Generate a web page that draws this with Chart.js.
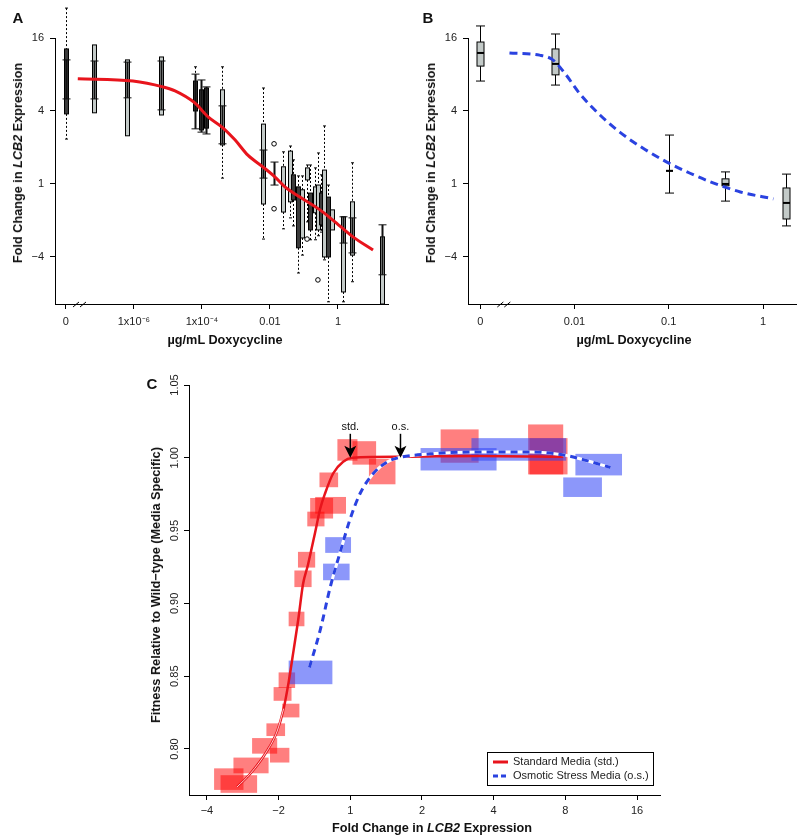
<!DOCTYPE html>
<html>
<head>
<meta charset="utf-8">
<script src="https://cdn.jsdelivr.net/npm/chart.js@4.4.0/dist/chart.umd.min.js"></script>
<style>
  body { margin: 0; background: #fff; font-family: "Liberation Sans", Arial, sans-serif; }
  #fig { position: relative; width: 800px; height: 839px; }
  canvas { position: absolute; }
  .t { position: absolute; white-space: nowrap; font-weight: bold; font-size: 12.7px; color: #111; transform: translate(-50%, -50%); }
  .r { transform: translate(-50%, -50%) rotate(-90deg); }
  .p { font-size: 15px; }
</style>
</head>
<body>
<div id="fig">
  <canvas id="cA" width="400" height="350" style="left:0;top:0"></canvas>
  <canvas id="cB" width="400" height="350" style="left:400px;top:0"></canvas>
  <canvas id="cC" width="800" height="484" style="left:0;top:355px"></canvas>

  <div class="t p" style="left:18px;top:17px">A</div>
  <div class="t p" style="left:428px;top:17px">B</div>
  <div class="t p" style="left:152px;top:383px">C</div>

  <div class="t r" style="left:18px;top:163px">Fold Change in <i>LCB2</i> Expression</div>
  <div class="t" style="left:225px;top:340px">µg/mL Doxycycline</div>
  <div class="t r" style="left:431px;top:163px">Fold Change in <i>LCB2</i> Expression</div>
  <div class="t" style="left:634px;top:340px">µg/mL Doxycycline</div>
  <div class="t r" style="left:156px;top:585px">Fitness Relative to Wild−type (Media Specific)</div>
  <div class="t" style="left:432px;top:828px">Fold Change in <i>LCB2</i> Expression</div>
</div>

<script>
const FONT = '"Liberation Sans", Arial, sans-serif';

// fold change axis (log2 units) shared by A and B
const foldTicks = [4, 2, 0, -2];
const foldLabels = ['16', '4', '1', '−4'];

// ---- panel A: dose in log10 µg/mL, zero dose drawn at -8
const aDoseTicks = [-8, -6, -4, -2, 0];
const aDoseLabels = ['0', '1x10⁻⁶', '1x10⁻⁴', '0.01', '1'];

const aBoxX     = [-8, -7.18, -6.19, -5.19, -4.19, -4.03, -3.89, -3.40, -2.20, -1.62, -1.41, -1.32, -1.18, -1.06, -0.91, -0.82, -0.68, -0.59, -0.50, -0.41, -0.29, -0.18, 0.15, 0.41, 1.29];
const aBoxLo    = [1.23, 1.95, 1.32, 1.89, 2.00, 1.48, 1.53, 0.16, -1.51, -1.23, -0.93, -1.15, -2.44, -1.95, -1.04, -1.53, -1.53, -1.42, -1.32, -2.08, -3.23, -1.26, -3.23, -2.68, -3.29];
const aBoxQ1    = [1.92, 1.95, 1.32, 1.89, 2.00, 1.48, 1.53, 1.07, -0.55, -0.77, -0.49, -0.44, -1.75, -1.48, 0.11, -1.26, -0.79, -1.26, -1.12, -2.00, -2.00, -1.26, -2.96, -1.95, -3.29];
const aBoxQ3    = [3.70, 3.81, 3.40, 3.48, 2.82, 2.58, 2.63, 2.58, 1.64, 0.47, 0.90, 0.25, -0.08, -0.16, 0.44, -0.25, -0.08, -0.03, -0.25, 0.38, -0.36, -0.71, -0.90, -0.49, -1.45];
const aBoxHi    = [4.82, 3.81, 3.40, 3.48, 3.21, 2.58, 2.63, 3.21, 2.63, 0.88, 1.04, 0.66, 0.22, 0.22, 0.52, 0.52, 0.44, 0.85, 0.25, 1.59, -0.03, -0.71, -0.90, 0.58, -1.45];
const aBoxShade = ['d', 'l', 'l', 'l', 'd', 'd', 'd', 'l', 'l', 'l', 'l', 'd', 'd', 'l', 'l', 'd', 'l', 'l', 'd', 'l', 'd', 'l', 'l', 'l', 'l'];

const aBarX  = [-8, -7.18, -6.19, -5.19, -4.19, -4.03, -3.89, -3.40, -2.20, -1.88, 0.15, 0.41, 1.29];
const aBarLo = [2.33, 2.33, 2.36, 2.03, 1.51, 1.42, 1.37, 1.10, 0.16, -0.03, -1.62, -1.89, -2.49];
const aBarHi = [3.40, 3.37, 3.34, 3.37, 3.01, 2.85, 2.66, 2.14, 0.93, 0.60, -0.90, -0.93, -1.12];

const aOutX = [-1.88, -1.88, -0.91, -0.59];
const aOutY = [1.10, -0.68, -1.51, -2.63];

const aFitX = [-7.65, -6.03, -5.15, -4.79, -4.21, -3.82, -3.41, -3.03, -2.65, -2.21, -1.85, -1.56, -1.12, -0.53, -0.15, 0.44, 1.03];
const aFitY = [2.88, 2.82, 2.66, 2.55, 2.22, 1.84, 1.56, 1.21, 0.79, 0.47, 0.19, -0.08, -0.36, -0.71, -0.99, -1.45, -1.81];

// ---- panel B: zero dose drawn at -3
const bDoseTicks = [-3, -2, -1, 0];
const bDoseLabels = ['0', '0.01', '0.1', '1'];
const bBoxX   = [-3, -2.205, -1, -0.40, 0.245];
const bBoxLo  = [2.82, 2.71, -0.25, -0.47, -1.15];
const bBoxQ1  = [3.23, 2.99, 0.36, -0.05, -0.96];
const bBoxMed = [3.59, 3.29, 0.36, 0.00, -0.52];
const bBoxQ3  = [3.89, 3.70, 0.36, 0.14, -0.11];
const bBoxHi  = [4.33, 4.11, 1.34, 0.33, 0.27];

const bFitX = [-2.69, -2.37, -2.23, -2.09, -1.95, -1.73, -1.52, -1.28, -1.02, -0.78, -0.53, -0.24, 0.11];
const bFitY = [3.59, 3.53, 3.40, 2.99, 2.49, 1.89, 1.42, 0.99, 0.60, 0.30, 0.03, -0.22, -0.41];

// ---- panel C: fitness vs log2 fold change
const cFoldTicks = [-2, -1, 0, 1, 2, 3, 4];
const cFoldLabels = ['−4', '−2', '1', '2', '4', '8', '16'];
const cFitTicks = [0.80, 0.85, 0.90, 0.95, 1.00, 1.05];
const cFitLabels = ['0.80', '0.85', '0.90', '0.95', '1.00', '1.05'];

const stdX1 = [-1.90, -1.81, -1.63, -1.37, -1.17, -1.12, -0.95, -1.07, -1.00, -0.86, -0.78, -0.73, -0.60, -0.56, -0.49, -0.43, -0.18, 0.03, 0.26, 1.26, 2.48, 2.50];
const stdX2 = [-1.49, -1.30, -1.14, -1.02, -0.91, -0.85, -0.71, -0.82, -0.77, -0.64, -0.54, -0.49, -0.36, -0.24, -0.06, -0.17, 0.10, 0.36, 0.63, 1.79, 2.97, 3.03];
const stdY1 = [0.7719, 0.7699, 0.7833, 0.7968, 0.8089, 0.7907, 0.8217, 0.8331, 0.8419, 0.8843, 0.9112, 0.9246, 0.9529, 0.9583, 0.9616, 0.9798, 0.9980, 0.9953, 0.9818, 0.9966, 0.9886, 0.9886];
const stdY2 = [0.7867, 0.7820, 0.7941, 0.8075, 0.8176, 0.8008, 0.8311, 0.8425, 0.8526, 0.8943, 0.9226, 0.9354, 0.9630, 0.9724, 0.9731, 0.9899, 1.0128, 1.0114, 0.9993, 1.0195, 1.0229, 1.0135];

const osX1 = [-0.35, -0.38, -0.86, 0.98, 1.69, 3.14, 2.97];
const osX2 = [0.01, -0.01, -0.25, 2.04, 3.01, 3.79, 3.51];
const osY1 = [0.9347, 0.9159, 0.8445, 0.9913, 0.9980, 0.9879, 0.9731];
const osY2 = [0.9455, 0.9273, 0.8607, 1.0067, 1.0135, 1.0027, 0.9865];

const stdFitX = [-1.58, -1.39, -1.16, -1.02, -0.93, -0.86, -0.79, -0.72, -0.66, -0.59, -0.49, -0.42, -0.35, -0.24, -0.10, 0.03, 0.70, 1.81, 2.97];
const stdFitY = [0.7739, 0.7833, 0.7988, 0.8123, 0.8277, 0.8459, 0.8681, 0.8910, 0.9132, 0.9266, 0.9489, 0.9650, 0.9758, 0.9892, 0.9973, 1.0000, 1.0007, 1.0013, 1.0007];
const osFitX = [-0.57, -0.42, -0.28, -0.14, 0.00, 0.14, 0.32, 0.52, 0.67, 1.12, 1.81, 2.51, 2.97, 3.25, 3.63];
const osFitY = [0.856, 0.8816, 0.9112, 0.9354, 0.9583, 0.9758, 0.9892, 0.9973, 1.000, 1.0027, 1.0040, 1.0040, 1.0020, 0.9987, 0.9933];

const arrowX = [0, 0.70];
const arrowLabels = ['std.', 'o.s.'];

const RED = '#e8141c';
const BLUE = '#2a42e0';
const pts = (xs, ys) => xs.map((x, i) => ({ x, y: ys[i] }));

function xAxis(min, max, vals, labels, h, pad) {
  return {
    type: 'linear', min, max,
    afterBuildTicks: s => { s.ticks = vals.map(v => ({ value: v })); },
    afterFit: s => { s.height = h; },
    ticks: { callback: (v, i) => labels[i], color: '#222', font: { family: FONT, size: 11 }, padding: pad, maxRotation: 0, autoSkip: false },
    grid: { drawOnChartArea: false, color: '#000', tickColor: '#000', tickLength: 5 },
    border: { color: '#000', width: 1 }
  };
}
function yAxis(min, max, vals, labels, w, showLabels) {
  return {
    type: 'linear', min, max,
    afterBuildTicks: s => { s.ticks = vals.map(v => ({ value: v })); },
    afterFit: s => { s.width = w; },
    ticks: { display: showLabels, callback: (v, i) => labels[i], color: '#222', font: { family: FONT, size: 11 }, padding: 6, autoSkip: false },
    grid: { drawOnChartArea: false, color: '#000', tickColor: '#000', tickLength: 5 },
    border: { color: '#000', width: 1 }
  };
}

// boxplots drawn through the chart scales
function boxPlugin(id, d, opt) {
  return {
    id,
    beforeDatasetsDraw(chart) {
      const { ctx, scales: { x, y } } = chart;
      ctx.save();
      ctx.strokeStyle = '#000';
      d.x.forEach((xv, i) => {
        const px = Math.round(x.getPixelForValue(xv)) + 0.5;
        const lo = y.getPixelForValue(d.lo[i]), q1 = y.getPixelForValue(d.q1[i]);
        const q3 = y.getPixelForValue(d.q3[i]), hi = y.getPixelForValue(d.hi[i]);
        const w = opt.width, c = opt.cap;
        ctx.lineWidth = 1;
        ctx.setLineDash(opt.dotted ? [2, 2] : []);
        ctx.beginPath();
        if (hi < q3 - 0.5) { ctx.moveTo(px, hi); ctx.lineTo(px, q3); }
        if (lo > q1 + 0.5) { ctx.moveTo(px, q1); ctx.lineTo(px, lo); }
        ctx.stroke();
        ctx.setLineDash([]);
        ctx.beginPath();
        if (hi < q3 - 0.5) { ctx.moveTo(px - c / 2, hi); ctx.lineTo(px + c / 2, hi); }
        if (lo > q1 + 0.5) { ctx.moveTo(px - c / 2, lo); ctx.lineTo(px + c / 2, lo); }
        ctx.stroke();
        ctx.fillStyle = d.shade && d.shade[i] === 'd' ? '#3c3c3c' : '#c3cac8';
        ctx.fillRect(px - w / 2, q3, w, q1 - q3);
        ctx.strokeRect(px - w / 2, q3, w, q1 - q3);
        if (d.med) {
          const m = y.getPixelForValue(d.med[i]);
          ctx.lineWidth = 2;
          ctx.beginPath(); ctx.moveTo(px - w / 2, m); ctx.lineTo(px + w / 2, m); ctx.stroke();
        }
      });
      if (d.barX) {
        d.barX.forEach((xv, i) => {
          const px = Math.round(x.getPixelForValue(xv)) + 0.5;
          const lo = y.getPixelForValue(d.barLo[i]), hi = y.getPixelForValue(d.barHi[i]);
          ctx.strokeStyle = '#111';
          ctx.lineWidth = 2;
          ctx.beginPath(); ctx.moveTo(px, hi); ctx.lineTo(px, lo); ctx.stroke();
          ctx.lineWidth = 1;
          ctx.beginPath();
          ctx.moveTo(px - 4, hi); ctx.lineTo(px + 4, hi);
          ctx.moveTo(px - 4, lo); ctx.lineTo(px + 4, lo);
          ctx.stroke();
        });
      }
      ctx.restore();
    }
  };
}

// axis break marks on the dose axis
function breakPlugin(id, at) {
  return {
    id,
    afterDraw(chart) {
      const { ctx, scales: { x }, chartArea } = chart;
      const px = x.getPixelForValue(at), py = chartArea.bottom;
      ctx.save();
      ctx.strokeStyle = '#000';
      ctx.lineWidth = 1;
      ctx.beginPath();
      [-3.5, 3.5].forEach(o => { ctx.moveTo(px + o - 3, py + 3); ctx.lineTo(px + o + 3, py - 2); });
      ctx.stroke();
      ctx.restore();
    }
  };
}

const base = {
  responsive: false, animation: false, events: [],
  plugins: { legend: { display: false }, tooltip: { enabled: false } }
};

// ---------- A
new Chart(document.getElementById('cA'), {
  type: 'scatter',
  data: {
    datasets: [
      { data: pts(aFitX, aFitY), showLine: true, borderColor: RED, borderWidth: 3, pointRadius: 0, cubicInterpolationMode: 'monotone', clip: false },
      { data: pts(aOutX, aOutY), pointRadius: 2.3, pointBorderColor: '#000', pointBackgroundColor: '#fff', pointBorderWidth: 1, clip: false }
    ]
  },
  options: {
    ...base,
    layout: { padding: { left: 0, top: 38, right: 12, bottom: 0 } },
    scales: {
      x: xAxis(-8.32, 1.47, aDoseTicks, aDoseLabels, 46, 6),
      y: yAxis(-3.29, 4, foldTicks, foldLabels, 55, true)
    }
  },
  plugins: [
    boxPlugin('boxA', { x: aBoxX, lo: aBoxLo, q1: aBoxQ1, q3: aBoxQ3, hi: aBoxHi, shade: aBoxShade, barX: aBarX, barLo: aBarLo, barHi: aBarHi }, { width: 4, cap: 3, dotted: true }),
    breakPlugin('brkA', -7.6)
  ]
});

// ---------- B
new Chart(document.getElementById('cB'), {
  type: 'scatter',
  data: {
    datasets: [
      { data: pts(bFitX, bFitY), showLine: true, borderColor: BLUE, borderWidth: 3, borderDash: [8, 5], pointRadius: 0, cubicInterpolationMode: 'monotone', clip: false }
    ]
  },
  options: {
    ...base,
    layout: { padding: { left: 0, top: 38, right: 4, bottom: 0 } },
    scales: {
      x: xAxis(-3.13, 0.35, bDoseTicks, bDoseLabels, 46, 6),
      y: yAxis(-3.29, 4, foldTicks, foldLabels, 68, true)
    }
  },
  plugins: [
    boxPlugin('boxB', { x: bBoxX, lo: bBoxLo, q1: bBoxQ1, med: bBoxMed, q3: bBoxQ3, hi: bBoxHi }, { width: 7, cap: 9, dotted: false }),
    breakPlugin('brkB', -2.75)
  ]
});

// ---------- C
const rectPlugin = {
  id: 'rects',
  beforeDatasetsDraw(chart) {
    const { ctx, scales: { x, y } } = chart;
    ctx.save();
    const draw = (x1, x2, y1, y2, col) => x1.forEach((v, i) => {
      const l = x.getPixelForValue(v), r = x.getPixelForValue(x2[i]);
      const b = y.getPixelForValue(y1[i]), t = y.getPixelForValue(y2[i]);
      ctx.fillStyle = col;
      ctx.fillRect(l, t, r - l, b - t);
    });
    draw(stdX1, stdX2, stdY1, stdY2, 'rgba(255,0,0,0.5)');
    draw(osX1, osX2, osY1, osY2, 'rgba(45,65,245,0.55)');
    ctx.restore();
  }
};
const cDecor = {
  id: 'cDecor',
  afterDraw(chart) {
    const { ctx, scales: { x, y }, chartArea } = chart;
    ctx.save();
    // rotated y tick labels
    ctx.fillStyle = '#222';
    ctx.font = '11px ' + FONT;
    ctx.textAlign = 'center';
    ctx.textBaseline = 'middle';
    cFitTicks.forEach((v, i) => {
      ctx.save();
      ctx.translate(chartArea.left - 14, y.getPixelForValue(v));
      ctx.rotate(-Math.PI / 2);
      ctx.fillText(cFitLabels[i], 0, 0);
      ctx.restore();
    });
    // arrows marking fitness optimum
    arrowX.forEach((v, i) => {
      const px = x.getPixelForValue(v), tip = y.getPixelForValue(1.0);
      ctx.fillStyle = '#111';
      ctx.fillText(arrowLabels[i], px, tip - 31);
      ctx.strokeStyle = '#000';
      ctx.lineWidth = 1.5;
      ctx.beginPath(); ctx.moveTo(px, tip - 24); ctx.lineTo(px, tip - 8); ctx.stroke();
      ctx.fillStyle = '#000';
      ctx.beginPath();
      ctx.moveTo(px, tip);
      ctx.lineTo(px - 6, tip - 12);
      ctx.lineTo(px, tip - 9);
      ctx.lineTo(px + 6, tip - 12);
      ctx.closePath();
      ctx.fill();
    });
    // legend box
    const w = 166, h = 33;
    const lx = chartArea.right - 7 - w, ly = chartArea.bottom - 10 - h;
    ctx.strokeStyle = '#000';
    ctx.lineWidth = 1;
    ctx.strokeRect(Math.round(lx) + 0.5, Math.round(ly) + 0.5, w, h);
    ctx.textAlign = 'left';
    ctx.fillStyle = '#222';
    [[RED, [], 'Standard Media (std.)'], [BLUE, [5, 3], 'Osmotic Stress Media (o.s.)']].forEach((e, i) => {
      const ry = ly + 10 + i * 14;
      ctx.strokeStyle = e[0];
      ctx.lineWidth = 3;
      ctx.setLineDash(e[1]);
      ctx.beginPath(); ctx.moveTo(lx + 6, ry); ctx.lineTo(lx + 21, ry); ctx.stroke();
      ctx.setLineDash([]);
      ctx.fillText(e[2], lx + 26, ry);
    });
    ctx.restore();
  }
};

new Chart(document.getElementById('cC'), {
  type: 'scatter',
  data: {
    datasets: [
      { data: pts(osFitX, osFitY), showLine: true, borderColor: BLUE, borderWidth: 3, borderDash: [7, 5], pointRadius: 0, cubicInterpolationMode: 'monotone', clip: false },
      { data: pts(osFitX, osFitY), showLine: true, borderColor: '#fff', borderWidth: 3, pointRadius: 0, cubicInterpolationMode: 'monotone', clip: false },
      { data: pts(stdFitX.slice(0, 5), stdFitY.slice(0, 5)), showLine: true, borderColor: '#fff', borderWidth: 0.8, pointRadius: 0, cubicInterpolationMode: 'monotone', clip: false },
      { data: pts(stdFitX, stdFitY), showLine: true, borderColor: RED, borderWidth: 2.5, pointRadius: 0, cubicInterpolationMode: 'monotone', clip: false }
    ]
  },
  options: {
    ...base,
    layout: { padding: { left: 0, top: 30, right: 140, bottom: 0 } },
    scales: {
      x: xAxis(-2.25, 4.32, cFoldTicks, cFoldLabels, 44, 4),
      y: yAxis(0.7684, 1.05, cFitTicks, cFitLabels, 189, false)
    }
  },
  plugins: [rectPlugin, cDecor]
});
</script>
</body>
</html>
